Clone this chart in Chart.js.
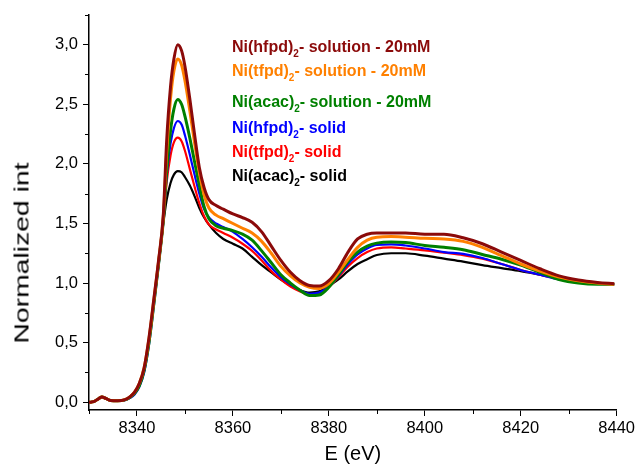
<!DOCTYPE html>
<html>
<head>
<meta charset="utf-8">
<script src="https://cdn.jsdelivr.net/npm/chart.js@4/dist/chart.umd.min.js"></script>
<style>
  html, body { margin: 0; padding: 0; background: #fff; }
  #wrap { position: relative; width: 638px; height: 466px; overflow: hidden; }
  canvas { position: absolute; left: 0; top: 0; }
  .lg { position: absolute; font-family: "Liberation Sans", Arial, sans-serif; font-weight: bold; font-size: 16px; white-space: nowrap; line-height: 1; }
  .lg sub { font-size: 10px; vertical-align: -5px; line-height: 0; }
  #ytitle { position: absolute; font-family: "Liberation Sans", Arial, sans-serif; font-size: 21px; white-space: nowrap; line-height: 1;
            left: 21px; top: 253px; transform: translate(-50%, -50%) rotate(-90deg) scaleX(1.35); color: #000; }
</style>
</head>
<body>
<div id="wrap">
  <canvas id="c" width="638" height="466"></canvas>
  <div id="ytitle">Normalized int</div>
</div>
<script>
// ---- data ----
const energy = [8330, 8331, 8332, 8332.7, 8333.5, 8334.5, 8336, 8337.5, 8338.5, 8339.5, 8340.5, 8341.5, 8342.5, 8343.5, 8344.5, 8345.5,
  8346.2, 8347, 8347.7, 8348.5, 8349.3, 8350, 8351, 8352, 8353, 8354, 8355, 8356.5, 8358, 8360, 8362, 8364, 8366, 8368, 8370, 8372, 8374, 8376, 8378, 8380,
  8382, 8384, 8386, 8388, 8390, 8393, 8396, 8400, 8404, 8408, 8412, 8416, 8420, 8424, 8428, 8432, 8436, 8439.5];

const hfpdSolution = [0, 0.005, 0.03, 0.045, 0.032, 0.015, 0.012, 0.022, 0.045, 0.085, 0.16, 0.29, 0.54, 0.86, 1.19, 1.58,
  2.2, 2.65, 2.88, 3.0, 2.95, 2.82, 2.55, 2.25, 1.97, 1.8, 1.7, 1.65, 1.62, 1.58, 1.55, 1.51, 1.43, 1.31, 1.19, 1.09, 1.02, 0.98, 0.975, 1.02,
  1.12, 1.26, 1.37, 1.41, 1.42, 1.42, 1.42, 1.41, 1.41, 1.38, 1.33, 1.26, 1.19, 1.12, 1.06, 1.025, 1.005, 0.995];

const tfpdSolution = [0, 0.005, 0.03, 0.045, 0.032, 0.015, 0.012, 0.022, 0.045, 0.085, 0.16, 0.29, 0.53, 0.85, 1.18, 1.56,
  2.1, 2.55, 2.78, 2.88, 2.83, 2.7, 2.45, 2.18, 1.93, 1.74, 1.63, 1.57, 1.54, 1.5, 1.46, 1.42, 1.35, 1.25, 1.14, 1.06, 1.0, 0.965, 0.955, 0.995,
  1.09, 1.2, 1.3, 1.36, 1.385, 1.39, 1.385, 1.375, 1.37, 1.35, 1.3, 1.23, 1.16, 1.1, 1.05, 1.02, 1.0, 0.99];

const acacSolution = [0, 0.005, 0.03, 0.045, 0.032, 0.015, 0.012, 0.02, 0.04, 0.075, 0.14, 0.27, 0.5, 0.82, 1.16, 1.53,
  1.95, 2.28, 2.46, 2.54, 2.5, 2.4, 2.22, 2.02, 1.82, 1.64, 1.54, 1.48, 1.46, 1.44, 1.41, 1.36, 1.27, 1.17, 1.07, 1.0, 0.94, 0.895, 0.9, 0.965,
  1.07, 1.18, 1.26, 1.31, 1.335, 1.345, 1.34, 1.315, 1.3, 1.28, 1.24, 1.2, 1.15, 1.09, 1.03, 1.0, 0.99, 0.99];

const hfpdSolid = [0, 0.005, 0.03, 0.045, 0.032, 0.015, 0.012, 0.018, 0.035, 0.065, 0.13, 0.25, 0.48, 0.8, 1.14, 1.52,
  1.9, 2.17, 2.3, 2.36, 2.33, 2.24, 2.08, 1.91, 1.75, 1.62, 1.55, 1.5, 1.47, 1.43, 1.37, 1.3, 1.22, 1.13, 1.05, 0.99, 0.94, 0.91, 0.92, 0.97,
  1.06, 1.16, 1.24, 1.29, 1.32, 1.325, 1.315, 1.29, 1.26, 1.245, 1.21, 1.16, 1.11, 1.07, 1.03, 1.01, 0.995, 0.99];

const tfpdSolid = [0, 0.005, 0.03, 0.045, 0.032, 0.015, 0.012, 0.02, 0.04, 0.075, 0.145, 0.27, 0.51, 0.83, 1.16, 1.52,
  1.85, 2.07, 2.18, 2.22, 2.19, 2.11, 1.96, 1.81, 1.67, 1.56, 1.49, 1.45, 1.42, 1.38, 1.33, 1.27, 1.19, 1.1, 1.03, 0.97, 0.93, 0.905, 0.915, 0.965,
  1.05, 1.14, 1.21, 1.26, 1.29, 1.3, 1.29, 1.275, 1.255, 1.235, 1.205, 1.16, 1.11, 1.07, 1.035, 1.01, 0.995, 0.99];

const acacSolid = [0, 0.005, 0.03, 0.045, 0.032, 0.015, 0.012, 0.02, 0.04, 0.075, 0.145, 0.27, 0.51, 0.83, 1.15, 1.5,
  1.7, 1.84, 1.91, 1.94, 1.93, 1.89, 1.82, 1.73, 1.63, 1.55, 1.49, 1.42, 1.37, 1.33, 1.29, 1.22, 1.15, 1.09, 1.03, 0.98, 0.94, 0.92, 0.93, 0.975,
  1.03, 1.1, 1.16, 1.2, 1.235, 1.25, 1.25, 1.23, 1.205, 1.18, 1.15, 1.125, 1.1, 1.07, 1.04, 1.015, 1.0, 0.99];

const seriesNames = ["Ni(hfpd)2- solution - 20mM", "Ni(tfpd)2- solution - 20mM", "Ni(acac)2- solution - 20mM",
  "Ni(hfpd)2- solid", "Ni(tfpd)2- solid", "Ni(acac)2- solid"];
const xMajorTicks = [8340, 8360, 8380, 8400, 8420, 8440];
const yMajorTicks = [0, 0.5, 1.0, 1.5, 2.0, 2.5, 3.0];

// ---- styling ----
const colors = ["#8b0a0a", "#ff8000", "#008000", "#0000ff", "#ff0000", "#000000"];
const widths = [3, 3, 3, 2.2, 2.2, 2.2];
const allSeries = [hfpdSolution, tfpdSolution, acacSolution, hfpdSolid, tfpdSolid, acacSolid];

const datasets = allSeries.map((vals, i) => ({
  label: seriesNames[i],
  data: vals.map((v, k) => ({ x: energy[k], y: v })),
  borderColor: colors[i],
  borderWidth: widths[i],
  pointRadius: 0,
  fill: false,
  cubicInterpolationMode: 'monotone'
}));

const FONT = '"Liberation Sans", Arial, sans-serif';

const minorTicks = {
  id: 'minorTicks',
  afterDraw(chart) {
    const ctx = chart.ctx;
    const xs = chart.scales.x, ys = chart.scales.y;
    ctx.save();
    ctx.strokeStyle = '#000';
    ctx.lineWidth = 1;
    ctx.beginPath();
    for (let v = 8330; v <= 8440; v += 10) {
      if (v % 20 === 0) continue;
      const px = Math.round(xs.getPixelForValue(v)) + 0.5;
      ctx.moveTo(px, xs.top);
      ctx.lineTo(px, xs.top + 4);
    }
    for (let v = 0.25; v <= 3.26; v += 0.5) {
      const py = Math.round(ys.getPixelForValue(v)) + 0.5;
      ctx.moveTo(ys.right, py);
      ctx.lineTo(ys.right - 4, py);
    }
    ctx.stroke();
    ctx.restore();
  }
};

new Chart(document.getElementById('c'), {
  type: 'line',
  data: { datasets },
  options: {
    responsive: false,
    animation: false,
    layout: { padding: { top: 13, right: 19, left: 0, bottom: 0 } },
    plugins: { legend: { display: false }, tooltip: { enabled: false } },
    scales: {
      x: {
        type: 'linear', min: 8330, max: 8440,
        afterBuildTicks: s => { s.ticks = xMajorTicks.map(v => ({ value: v })); },
        afterFit: s => { s.height = 56; },
        grid: { display: true, drawOnChartArea: false, drawTicks: true, tickLength: 6, color: '#000', tickColor: '#000' },
        border: { display: true, color: '#000', width: 1.5 },
        ticks: { color: '#000', font: { family: FONT, size: 16.5 }, padding: 3, maxRotation: 0, callback: v => String(v) },
        title: { display: true, text: 'E (eV)', color: '#000', font: { family: FONT, size: 20 }, padding: { top: 0, bottom: 0 } }
      },
      y: {
        type: 'linear', min: -0.065, max: 3.25,
        afterBuildTicks: s => { s.ticks = yMajorTicks.map(v => ({ value: v })); },
        afterFit: s => { s.width = 89; },
        grid: { display: true, drawOnChartArea: false, drawTicks: true, tickLength: 6, color: '#000', tickColor: '#000' },
        border: { display: true, color: '#000', width: 1.5 },
        ticks: { color: '#000', font: { family: FONT, size: 16.5 }, padding: 5, callback: v => v.toFixed(1).replace('.', ',') },
        title: { display: false }
      }
    }
  },
  plugins: [minorTicks]
});

// ---- legend as real HTML text ----
const legendTop = [39, 63, 94, 120, 144, 168];
const wrap = document.getElementById('wrap');
seriesNames.forEach((name, i) => {
  const d = document.createElement('div');
  d.className = 'lg';
  d.style.left = '232px';
  d.style.top = legendTop[i] + 'px';
  d.style.color = colors[i];
  const cut = name.indexOf(')2') + 1;
  d.innerHTML = name.slice(0, cut) + '<sub>2</sub>' + name.slice(cut + 1);
  wrap.appendChild(d);
});
</script>
</body>
</html>
